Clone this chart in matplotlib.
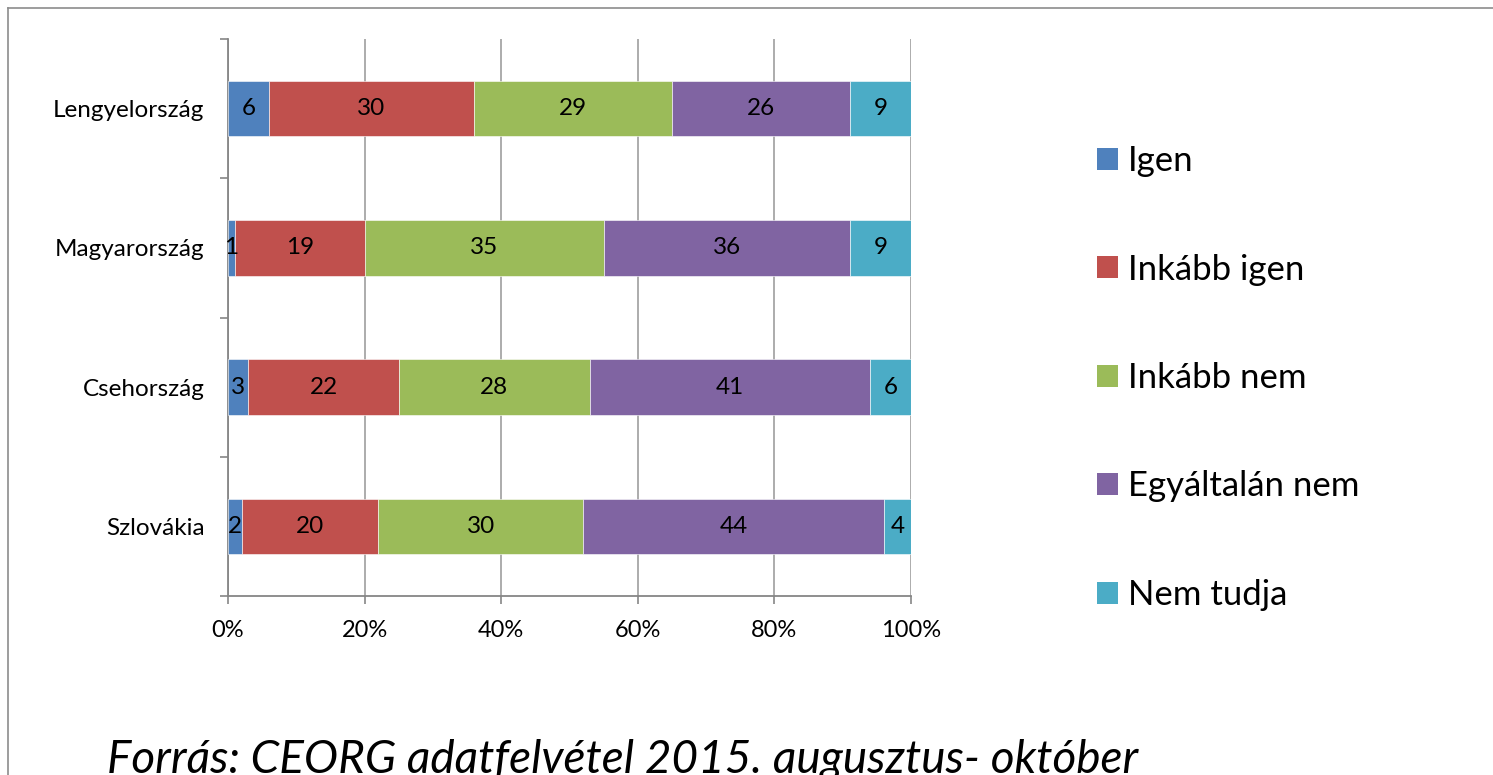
import matplotlib
matplotlib.use("Agg")
import matplotlib.pyplot as plt
from matplotlib.lines import Line2D
from matplotlib.patches import Patch
import numpy as np

plt.rcParams['font.family'] = ['Lato', 'DejaVu Sans']

countries = ["Lengyelország", "Magyarország", "Csehország", "Szlovákia"]
series_names = ["Igen", "Inkább igen", "Inkább nem", "Egyáltalán nem", "Nem tudja"]
igen = [6, 1, 3, 2]
inkabb_igen = [30, 19, 22, 20]
inkabb_nem = [29, 35, 28, 30]
egyaltalan_nem = [26, 36, 41, 44]
nem_tudja = [9, 9, 6, 4]
colors = ["#4F81BD", "#C0504D", "#9BBB59", "#8064A2", "#4BACC6"]
xticklabels = ["0%", "20%", "40%", "60%", "80%", "100%"]
footer = "Forrás: CEORG adatfelvétel 2015. augusztus- október"

series = [igen, inkabb_igen, inkabb_nem, egyaltalan_nem, nem_tudja]

W, H = 1493, 775
fig = plt.figure(figsize=(W / 100, H / 100), dpi=100)
ax = fig.add_axes([228 / W, 1 - 596 / H, (911 - 228) / W, (596 - 39) / H])

y = np.arange(len(countries))
left = np.zeros(len(countries))
for name, vals, c in zip(series_names, series, colors):
    vals = np.array(vals, dtype=float)
    ax.barh(y, vals, left=left, height=0.4, color=c, label=name,
            edgecolor='white', linewidth=0.4, zorder=3)
    for yi, l, v in zip(y, left, vals):
        ax.text(l + v / 2, yi, f"{int(v)}", ha='center', va='center',
                fontsize=17.5, color='black', zorder=4)
    left += vals

ax.set_xlim(0, 100)
ax.set_ylim(len(countries) - 0.5, -0.5)
ax.set_xticks(np.arange(0, 101, 20))
ax.set_xticklabels(xticklabels, fontsize=17)
ax.set_yticks(y)
ax.set_yticklabels(countries, fontsize=17.5)
ax.tick_params(axis='y', which='major', length=0, pad=17)
ax.set_yticks(np.arange(-0.5, len(countries), 1), minor=True)
ax.tick_params(axis='y', which='minor', length=6, width=1.2, color='#868686', direction='out')
ax.tick_params(axis='x', length=6, width=1.2, color='#868686', pad=11)
ax.grid(axis='x', color='#A6A6A6', linewidth=1.3, zorder=0)
ax.set_axisbelow(True)
for s in ['top', 'right']:
    ax.spines[s].set_visible(False)
for s in ['left', 'bottom']:
    ax.spines[s].set_color('#868686')
    ax.spines[s].set_linewidth(1.3)

handles = [Patch(facecolor=c, edgecolor='none') for c in colors]
fig.legend(handles, series_names, loc='center left',
           bbox_to_anchor=(1097 / W, 1 - 378 / H), frameon=False,
           fontsize=25, handlelength=0.6, handleheight=0.6,
           handletextpad=0.3, labelspacing=2.2, borderpad=0, borderaxespad=0)

fig.text(107 / W, 1 - 773 / H, footer, fontsize=33, style='italic',
         ha='left', va='baseline')

frame_color = '#8C8C8C'
fig.add_artist(Line2D([8 / W, 8 / W], [0, 1 - 8 / H], transform=fig.transFigure,
                      color=frame_color, linewidth=1.2))
fig.add_artist(Line2D([8 / W, 1], [1 - 8 / H, 1 - 8 / H], transform=fig.transFigure,
                      color=frame_color, linewidth=1.2))

fig.savefig("out.png", dpi=100)
